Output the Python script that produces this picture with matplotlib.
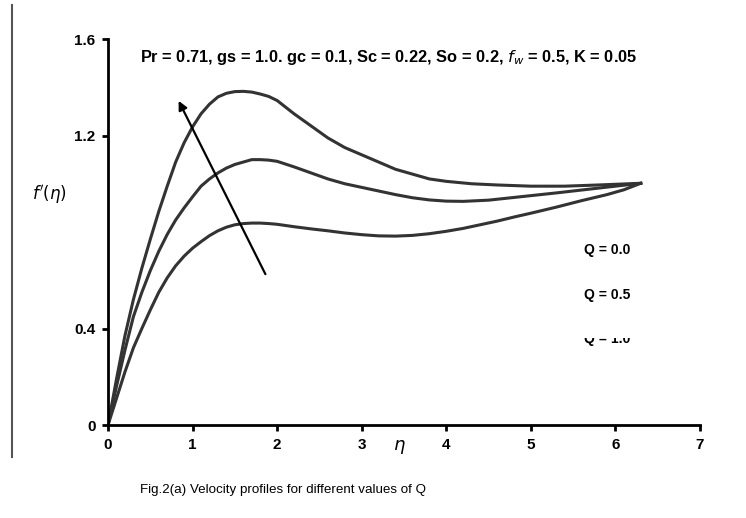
import numpy as np
import matplotlib
matplotlib.use('Agg')
import matplotlib.pyplot as plt
from matplotlib.patches import Rectangle
from matplotlib.lines import Line2D

# velocity profiles f'(eta), Q = 1.0 / 0.5 / 0.0
eta_q10 = [0, 0.1, 0.2, 0.3, 0.4, 0.5, 0.6, 0.7, 0.8, 0.9, 1.0, 1.1, 1.2, 1.3, 1.4, 1.5, 1.6, 1.7,
           1.8, 1.9, 2.0, 2.2, 2.4, 2.6, 2.8, 3.0, 3.2, 3.4, 3.6, 3.8, 4.0, 4.3, 4.6, 5.0, 5.4, 5.8, 6.3]
fp_q10 = [0, 0.19, 0.37, 0.52, 0.65, 0.77, 0.885, 0.99, 1.09, 1.17, 1.236, 1.29, 1.33, 1.36, 1.375, 1.382,
          1.383, 1.38, 1.372, 1.362, 1.345, 1.29, 1.24, 1.19, 1.15, 1.12, 1.09, 1.06, 1.04, 1.02, 1.01,
          1.0, 0.995, 0.99, 0.99, 0.995, 1.002]

eta_q05 = [0, 0.1, 0.2, 0.3, 0.4, 0.5, 0.6, 0.7, 0.8, 0.9, 1.0, 1.1, 1.2, 1.3, 1.4, 1.5, 1.6, 1.7, 1.8,
           1.9, 2.0, 2.2, 2.4, 2.6, 2.8, 3.0, 3.2, 3.4, 3.6, 3.8, 4.0, 4.2, 4.5, 4.9, 5.3, 5.7, 6.0, 6.3]
fp_q05 = [0, 0.16, 0.31, 0.449, 0.55, 0.64, 0.72, 0.79, 0.85, 0.90, 0.946, 0.99, 1.02, 1.045, 1.065, 1.08,
          1.09, 1.10, 1.10, 1.098, 1.093, 1.07, 1.045, 1.02, 1.0, 0.985, 0.97, 0.955, 0.942, 0.933, 0.928,
          0.927, 0.932, 0.947, 0.962, 0.978, 0.99, 1.002]

eta_q00 = [0, 0.1, 0.2, 0.3, 0.4, 0.5, 0.6, 0.7, 0.8, 0.9, 1.0, 1.1, 1.2, 1.3, 1.4, 1.5, 1.6, 1.7, 1.8,
           1.9, 2.0, 2.2, 2.4, 2.6, 2.8, 3.0, 3.2, 3.4, 3.6, 3.8, 4.0, 4.2, 4.4, 4.6, 4.8, 5.0, 5.3, 5.6,
           5.9, 6.1, 6.3]
fp_q00 = [0, 0.11, 0.22, 0.32, 0.40, 0.477, 0.55, 0.61, 0.66, 0.70, 0.733, 0.76, 0.785, 0.805, 0.82, 0.83,
          0.835, 0.837, 0.837, 0.835, 0.832, 0.822, 0.813, 0.805, 0.796, 0.789, 0.784, 0.783, 0.786, 0.793,
          0.803, 0.815, 0.83, 0.845, 0.862, 0.878, 0.903, 0.93, 0.955, 0.975, 1.002]

xticks = [0, 1, 2, 3, 4, 5, 6, 7]
yticks = [0, 0.4, 1.2, 1.6]
ytick_labels = ['0', '0.4', '1.2', '1.6']

params = r'Pr = 0.71, gs = 1.0. gc = 0.1, Sc = 0.22, So = 0.2, $f_w$ = 0.5, K = 0.05'
q_labels = ['Q = 0.0', 'Q = 0.5', 'Q = 1.0']
caption = 'Fig.2(a) Velocity profiles for different values of Q'

fig = plt.figure(figsize=(7.46, 5.18), dpi=100)
ax = fig.add_axes([0.1448, 0.1795, 0.7935, 0.7452])

for x, y in [(eta_q10, fp_q10), (eta_q05, fp_q05), (eta_q00, fp_q00)]:
    ax.plot(x, y, color='#333333', lw=2.2, solid_joinstyle='round')

ax.annotate('', xy=(0.82, 1.354), xytext=(1.876, 0.615),
            arrowprops=dict(arrowstyle='-|>', color='black', lw=1.6, mutation_scale=13))

ax.set_xlim(0, 7)
ax.set_ylim(0, 1.6)
ax.set_xticks(xticks)
ax.set_xticklabels([str(t) for t in xticks], fontweight='bold', fontsize=11, family='Liberation Sans')
ax.set_yticks(yticks)
ax.set_yticklabels(ytick_labels, fontweight='bold', fontsize=11, family='Liberation Sans')
ax.tick_params(direction='out', length=4, width=2, pad=5)
for s in ['top', 'right']:
    ax.spines[s].set_visible(False)
for s in ['left', 'bottom']:
    ax.spines[s].set_linewidth(2)

ax.text(0.38, 1.525, params, fontsize=11.8, fontweight='bold', family='Liberation Sans', va='center')
ax.text(3.44, -0.09, r'$\eta$', fontsize=13, ha='center', va='center')
fig.text(0.067, 0.625, r"$f'(\eta)$", fontsize=12, ha='center', va='center')

for i, lab in enumerate(q_labels):
    ax.text(5.63, 0.725 - i * 0.185, lab, fontsize=10, fontweight='bold', family='Liberation Sans',
            va='center')
# the third label is cut off at its top in the original
ax.add_patch(Rectangle((5.55, 0.36), 1.0, 0.05, facecolor='white', edgecolor='none', zorder=5))

fig.text(0.188, 0.055, caption, fontsize=9.6, family='Liberation Sans', va='center')

fig.add_artist(Line2D([0.016, 0.016], [0.118, 0.99], color='#555555', lw=1.5, transform=fig.transFigure))

plt.savefig('out.png', dpi=100)
